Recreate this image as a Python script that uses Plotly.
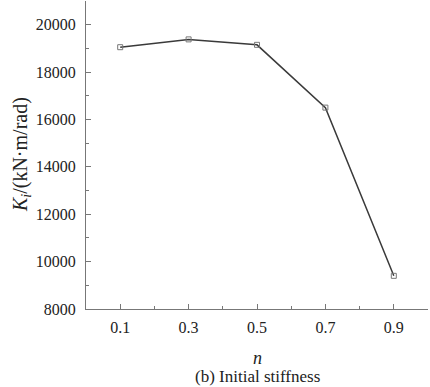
import plotly.graph_objects as go

n_vals = [0.1, 0.3, 0.5, 0.7, 0.9]
k_vals = [19050, 19380, 19150, 16500, 9400]
x_ticks = [0.1, 0.3, 0.5, 0.7, 0.9]
x_ticklabels = ["0.1", "0.3", "0.5", "0.7", "0.9"]
y_ticks = [8000, 10000, 12000, 14000, 16000, 18000, 20000]
y_ticklabels = ["8000", "10000", "12000", "14000", "16000", "18000", "20000"]

FONT = "Liberation Serif, Times New Roman, serif"
AXC = "#777777"

fig = go.Figure()
fig.add_trace(go.Scatter(
    x=n_vals, y=k_vals, mode="lines+markers",
    line=dict(color="#3a3a3a", width=1.5),
    marker=dict(symbol="square-open", size=5, color="#777777", line=dict(width=1)),
    showlegend=False,
))

fig.update_layout(
    width=430, height=387,
    margin=dict(l=86, r=2, t=1, b=78),
    paper_bgcolor="white", plot_bgcolor="white",
    font=dict(family=FONT, size=16, color="#222222"),
    xaxis=dict(
        range=[0, 1.0], showgrid=False, zeroline=False,
        showline=True, linecolor=AXC, linewidth=1,
        tickmode="array", tickvals=x_ticks, ticktext=x_ticklabels,
        ticks="inside", ticklen=5, tickcolor=AXC, tickwidth=1,
        ticklabelstandoff=4,
        minor=dict(tickmode="linear", tick0=0, dtick=0.1, ticks="inside", ticklen=3, tickcolor=AXC),
        tickfont=dict(family=FONT, size=16, color="#222222"),
    ),
    yaxis=dict(
        range=[8000, 21000], showgrid=False, zeroline=False,
        showline=True, linecolor=AXC, linewidth=1,
        tickmode="array", tickvals=y_ticks, ticktext=y_ticklabels,
        ticks="inside", ticklen=5, tickcolor=AXC, tickwidth=1,
        ticklabelstandoff=6,
        minor=dict(tickmode="linear", tick0=8000, dtick=1000, ticks="inside", ticklen=3, tickcolor=AXC),
        tickfont=dict(family=FONT, size=16, color="#222222"),
    ),
    annotations=[
        dict(text="<i>K</i><sub><i>i</i></sub>/(kN·m/rad)", xref="paper", yref="paper",
             x=-0.19, y=0.5, xanchor="center", yanchor="middle", textangle=-90,
             showarrow=False, font=dict(family=FONT, size=20, color="#222222")),
        dict(text="<i>n</i>", xref="paper", yref="paper", x=0.5, y=-0.158,
             xanchor="center", yanchor="middle", showarrow=False,
             font=dict(family=FONT, size=18, color="#222222")),
        dict(text="(b) Initial stiffness", xref="paper", yref="paper", x=0.5, y=-0.218,
             xanchor="center", yanchor="middle", showarrow=False,
             font=dict(family=FONT, size=17, color="#222222")),
    ],
)

fig.write_html("out.html")
